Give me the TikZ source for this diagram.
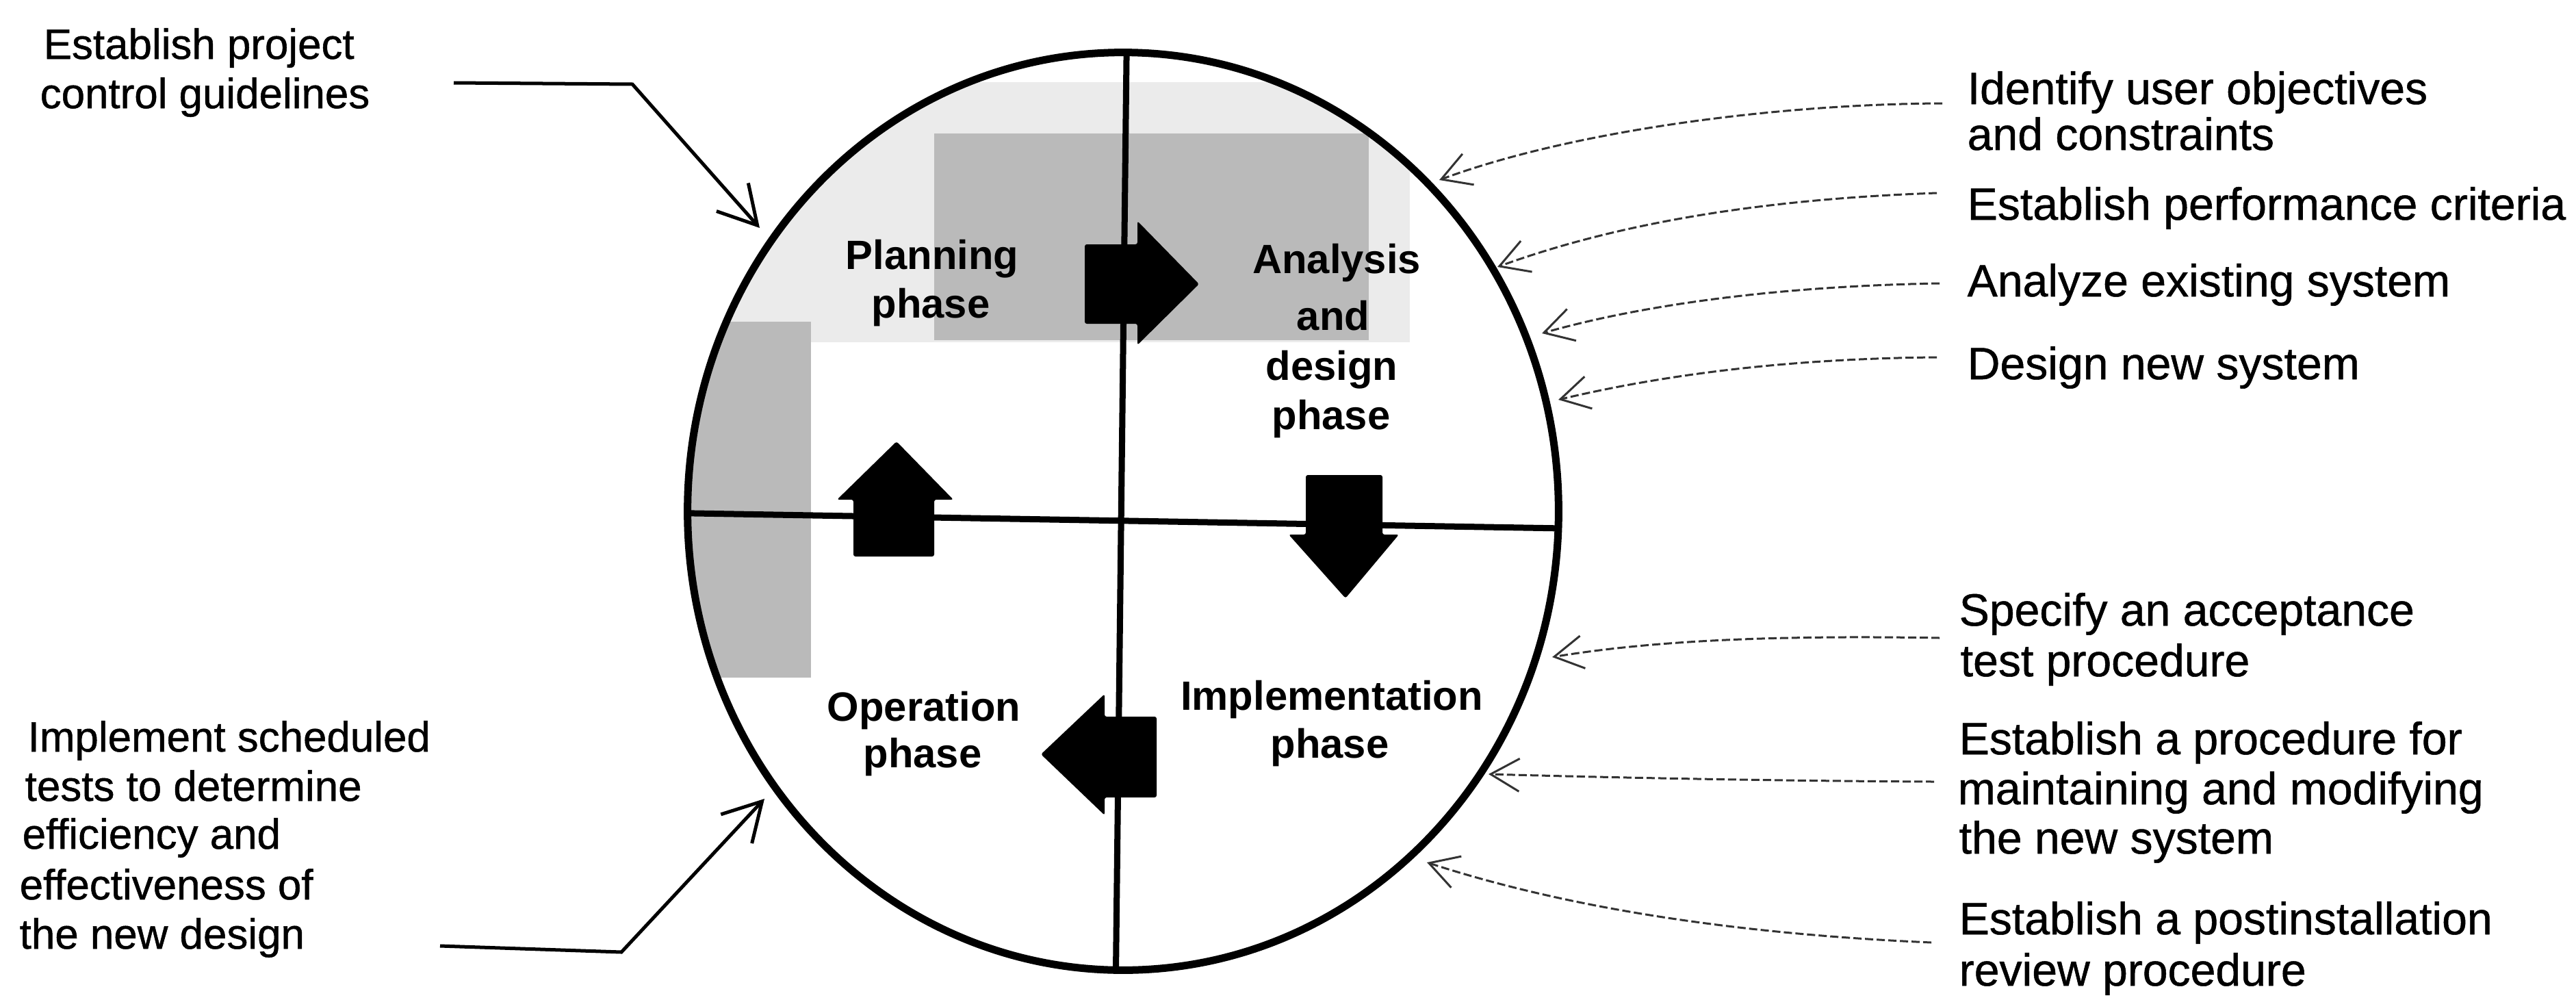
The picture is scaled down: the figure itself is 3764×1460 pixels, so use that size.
\documentclass[tikz,border=0pt]{standalone}
\usepackage{fontspec}
\setmainfont{Liberation Sans}
\newfontfamily\labelfont[FakeBold=0.8]{Liberation Sans}
\usetikzlibrary{arrows.meta}
\begin{document}
\begin{tikzpicture}[x=0.01cm,y=-0.01cm,
  outer/.style={anchor=base west, inner sep=0pt, font=\labelfont\fontsize{18.8}{22}\selectfont},
  outerl/.style={anchor=base west, inner sep=0pt, font=\labelfont\fontsize{17.6}{21}\selectfont},
  phaselbl/.style={anchor=base, inner sep=0pt, font=\fontsize{17}{20}\selectfont\bfseries},
  flow/.style={fill=black, draw=none, rounded corners=0.03cm},
  feedL/.style={line width=0.05cm, -{Straight Barb[length=0.55cm,width=0.62cm]}},
  feedR/.style={line width=0.03cm, black!80, dash pattern=on 0.12cm off 0.05cm, -{Straight Barb[length=0.42cm,width=0.48cm]}},
  divider/.style={line width=0.09cm},
  rim/.style={line width=0.11cm},
]
\useasboundingbox (0,0) rectangle (3764,1460);
% shading and dividers inside the circle
\begin{scope}
  \clip (1641,747) ellipse [x radius=6.36cm, y radius=6.70cm];
  \fill[black!8] (1005,120) rectangle (2060,500);
  \fill[black!27] (1365,195) rectangle (2000,497);
  \fill[black!27] (1005,470) rectangle (1185,990);
  \draw[divider] (1647,0) -- (1630,1460);
  \draw[divider] (900,748) -- (2400,774);
\end{scope}
\draw[rim] (1641,747) ellipse [x radius=6.36cm, y radius=6.70cm];

% flow arrows
\fill[flow] (1585,357) -- (1662,357) -- (1662,323) -- (1752,415) -- (1662,504) -- (1662,473) -- (1585,473) -- cycle;
\fill[flow] (1908,694) -- (2020,694) -- (2020,781) -- (2044,781) -- (1966,874) -- (1883,781) -- (1908,781) -- cycle;
\fill[flow] (1690,1047) -- (1690,1165) -- (1614,1165) -- (1614,1191) -- (1521,1102) -- (1614,1014) -- (1614,1047) -- cycle;
\fill[flow] (1247,813) -- (1365,813) -- (1365,730) -- (1393,730) -- (1310,645) -- (1223,730) -- (1247,730) -- cycle;

% phase labels
\node[phaselbl] (pl1) at (1362,393) {Planning};
\node[phaselbl] (pl2) at (1360,464) {phase};
\node[phaselbl] (an1) at (1953,399) {Analysis};
\node[phaselbl] (an2) at (1948,482) {and};
\node[phaselbl] (an3) at (1946,555) {design};
\node[phaselbl] (an4) at (1945,627) {phase};
\node[phaselbl] (op1) at (1350,1053) {Operation};
\node[phaselbl] (op2) at (1348,1121) {phase};
\node[phaselbl] (im1) at (1946,1037) {Implementation};
\node[phaselbl] (im2) at (1943,1107) {phase};

% left texts
\node[outerl] (ep1) at (63,86) {Establish project};
\node[outerl] (ep2) at (58,158) {control guidelines};
\node[outerl] (is1) at (40,1098) {Implement scheduled};
\node[outerl] (is2) at (36,1170) {tests to determine};
\node[outerl] (is3) at (32,1240) {efficiency and};
\node[outerl] (is4) at (28,1314) {effectiveness of};
\node[outerl] (is5) at (28,1386) {the new design};

% right texts
\node[outer] (iu1) at (2874,152) {Identify user objectives};
\node[outer] (iu2) at (2874,219) {and constraints};
\node[outer] (pc) at (2874,321) {Establish performance criteria};
\node[outer] (ae) at (2874,433) {Analyze existing system};
\node[outer] (dn) at (2874,554) {Design new system};
\node[outer] (sa1) at (2862,914) {Specify an acceptance};
\node[outer] (sa2) at (2864,988) {test procedure};
\node[outer] (mp1) at (2862,1102) {Establish a procedure for};
\node[outer] (mp2) at (2860,1175) {maintaining and modifying};
\node[outer] (mp3) at (2862,1247) {the new system};
\node[outer] (pr1) at (2862,1365) {Establish a postinstallation};
\node[outer] (pr2) at (2862,1440) {review procedure};

% connector end points
\coordinate (sEP) at (663,121);  \coordinate (bEP) at (924,123);  \coordinate (tEP) at (1110,333);
\coordinate (sIS) at (643,1382); \coordinate (bIS) at (908,1391); \coordinate (tIS) at (1117,1167);
\coordinate (sIU) at (2838,151);  \coordinate (tIU) at (2103,263);
\coordinate (sPC) at (2830,282);  \coordinate (tPC) at (2188,390);
\coordinate (sAE) at (2834,414);  \coordinate (tAE) at (2253,487);
\coordinate (sDN) at (2830,522);  \coordinate (tDN) at (2277,584);
\coordinate (sSA) at (2834,932);  \coordinate (tSA) at (2268,960);
\coordinate (sMP) at (2826,1142); \coordinate (tMP) at (2175,1131);
\coordinate (sPR) at (2822,1377); \coordinate (tPR) at (2085,1260);

% connectors
\draw[feedL] (sEP) -- (bEP) -- (tEP);
\draw[feedL] (sIS) -- (bIS) -- (tIS);
\draw[feedR] (sIU) .. controls (2600,152) and (2300,190) .. (tIU);
\draw[feedR] (sPC) .. controls (2600,290) and (2380,320) .. (tPC);
\draw[feedR] (sAE) .. controls (2600,418) and (2400,445) .. (tAE);
\draw[feedR] (sDN) .. controls (2600,524) and (2420,550) .. (tDN);
\draw[feedR] (sSA) .. controls (2600,928) and (2420,935) .. (tSA);
\draw[feedR] (sMP) .. controls (2600,1141) and (2350,1136) .. (tMP);
\draw[feedR] (sPR) .. controls (2550,1365) and (2300,1330) .. (tPR);
\end{tikzpicture}
\end{document}
